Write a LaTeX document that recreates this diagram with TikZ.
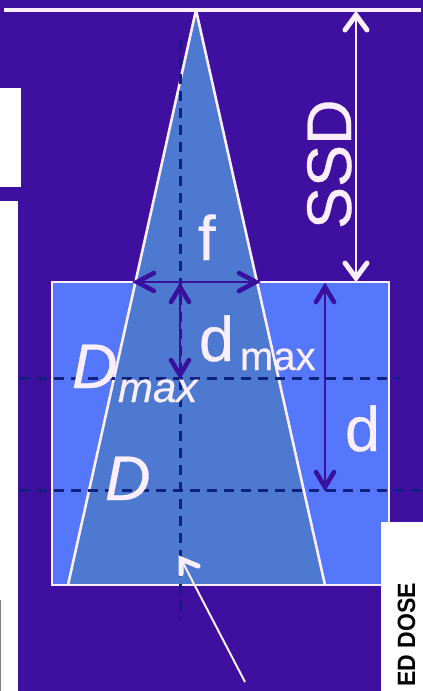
\documentclass[tikz,border=0pt]{standalone}
\usepackage{fontspec}
\setmainfont{Liberation Sans}
\newfontfamily\heavy[FakeBold=0.5]{Liberation Sans}
\usetikzlibrary{calc}
\definecolor{bgc}{HTML}{3F0F9F}
\definecolor{boxc}{HTML}{5577FB}
\definecolor{beamc}{HTML}{4D79D0}
\definecolor{dimc}{HTML}{3A109F}
\definecolor{dashc}{HTML}{10207F}
\definecolor{linec}{HTML}{FBEFFF}
\tikzset{
  lab/.style={text=linec,inner sep=0pt,outer sep=0pt,anchor=base west},
  big/.style={lab,font=\heavy\fontsize{63}{63}\selectfont},
  bigit/.style={lab,font=\heavy\fontsize{63}{63}\selectfont\itshape},
  subit/.style={lab,font=\heavy\fontsize{42}{42}\selectfont\itshape},
  subup/.style={lab,font=\heavy\fontsize{40}{40}\selectfont},
  whitedim/.style={draw=linec,line width=1.4pt},
  purpledim/.style={draw=dimc,line width=1.4pt},
  whitebarb/.style={draw=linec,line width=5pt,line cap=round,line join=miter},
  purplebarb/.style={draw=dimc,line width=4.6pt,line cap=round,line join=miter},
  axisdash/.style={draw=dashc,line width=3pt,dash pattern=on 10pt off 7pt},
  edge/.style={draw=linec,line width=2.6pt},
  panel/.style={fill=white,draw=none}
}
\begin{document}
\begin{tikzpicture}[x=1pt,y=-1pt]
\useasboundingbox (0,0) rectangle (423,691);
\clip (0,0) rectangle (423,691);
\fill[bgc] (0,0) rectangle (423,691);
% white panels
\fill[panel] (0,88) rectangle (21,187);
\fill[panel] (0,201) rectangle (18,691);
\fill[gray] (0,600) rectangle (1,691);
% coordinates
\coordinate (apex) at (196,10);
\coordinate (bl) at (68,585);
\coordinate (br) at (325,585);
\coordinate (fl) at (137,282);
\coordinate (fr) at (256,282);
\coordinate (surf) at (356,278);
\coordinate (src) at (356,15);
\coordinate (axtop) at (180,287);
\coordinate (dmaxend) at (180,375);
\coordinate (dtop) at (325,287);
\coordinate (dend) at (325,487);
\coordinate (tail) at (245,682);
\coordinate (tip) at (181,559);
% phantom box and beam
\filldraw[fill=boxc,draw=linec,line width=2pt] (52,282) rectangle (389,585);
\fill[beamc] (apex) -- (br) -- (bl) -- cycle;
% outer edges
\draw[edge] (apex) -- (bl);
\draw[edge] (apex) -- (br);
\draw[draw=linec,line width=2pt] (bl) -- (br);
\draw[draw=linec,line width=2pt] (52,282) -- (389,282);
% dashes
\draw[axisdash] (180,40) -- (180,620);
\draw[axisdash] (20,378) -- (400,378);
\draw[axisdash] (20,490) -- (423,490);
% source line
\draw[draw=linec,line width=4pt] (4,9.5) -- (421,9.5);
% right panel
\fill[panel] (381,522) rectangle (423,691);
% dimensions
\draw[whitedim] (src) -- (surf);
\draw[whitebarb] ($(src)+(-11,15)$) -- (src) -- ($(src)+(11,15)$);
\draw[whitebarb] ($(surf)+(-11,-15)$) -- (surf) -- ($(surf)+(11,-15)$);
\draw[purpledim] (fl) -- (fr);
\draw[purplebarb] ($(fl)+(17,-9)$) -- (fl) -- ($(fl)+(17,9)$);
\draw[purplebarb] ($(fr)+(-17,-9)$) -- (fr) -- ($(fr)+(-17,9)$);
\draw[purpledim] (axtop) -- (dmaxend);
\draw[purplebarb] ($(axtop)+(-9,15)$) -- (axtop) -- ($(axtop)+(9,15)$);
\draw[purplebarb] ($(dmaxend)+(-9,-15)$) -- (dmaxend) -- ($(dmaxend)+(9,-15)$);
\draw[purpledim] (dtop) -- (dend);
\draw[purplebarb] ($(dtop)+(-9,15)$) -- (dtop) -- ($(dtop)+(9,15)$);
\draw[purplebarb] ($(dend)+(-9,-15)$) -- (dend) -- ($(dend)+(9,-15)$);
\draw[draw=linec,line width=2pt] (tail) -- (tip);
\draw[whitebarb] ($(tip)+(0,15)$) -- (tip) -- ($(tip)+(17,7)$);
% labels
\node[big,rotate=90] (ssd) at (351,229) {SSD};
\node[big] (flab) at (198,260) {f};
\node[bigit] (dmx) at (72,388) {D};
\node[subit] (dmxs) at (118,402) {max};
\node[bigit] (dd) at (105,500) {D};
\node[big] (dm) at (199,361) {d};
\node[subup] (dms) at (240,370) {max};
\node[big] (dr) at (345,451) {d};
\node[inner sep=0pt,anchor=base east,rotate=90,text=black,font=\bfseries\fontsize{25}{25}\selectfont] (dose) at (415,583) {\scalebox{0.92}[1]{ED DOSE}};
\end{tikzpicture}
\end{document}
